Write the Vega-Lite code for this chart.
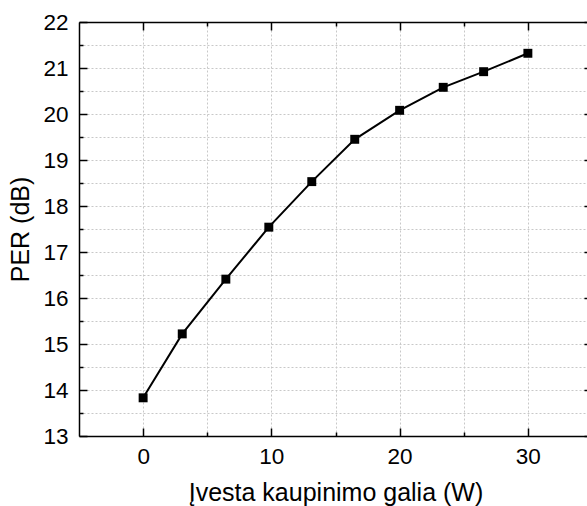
{
  "$schema": "https://vega.github.io/schema/vega-lite/v6.json",
  "width": 513,
  "height": 414,
  "autosize": {"type": "none"},
  "padding": {"left": 79, "top": 22, "right": 0, "bottom": 70},
  "background": "white",
  "config": {
    "view": {"stroke": null},
    "font": "Liberation Sans",
    "axis": {
      "domainColor": "black",
      "domainWidth": 1.5,
      "tickColor": "black",
      "tickWidth": 1.5,
      "labelFontSize": 22.5,
      "labelColor": "black",
      "labelFont": "Liberation Sans",
      "titleFont": "Liberation Sans",
      "titleFontSize": 25,
      "titleFontWeight": "normal",
      "titleColor": "black",
      "gridColor": "#c8c8c8",
      "gridDash": [2, 2],
      "gridWidth": 1
    }
  },
  "data": {
    "values": [
      {"power": 0, "per": 13.83},
      {"power": 3.05, "per": 15.22},
      {"power": 6.45, "per": 16.41},
      {"power": 9.8, "per": 17.54},
      {"power": 13.15, "per": 18.53},
      {"power": 16.5, "per": 19.45},
      {"power": 20, "per": 20.08},
      {"power": 23.4, "per": 20.58},
      {"power": 26.55, "per": 20.92},
      {"power": 30, "per": 21.32}
    ]
  },
  "layer": [
    {
      "mark": {"type": "line", "color": "black", "strokeWidth": 2},
      "encoding": {
        "x": {
          "field": "power",
          "type": "quantitative",
          "scale": {"domain": [-5, 35], "nice": false, "zero": false},
          "axis": {
            "orient": "bottom",
            "values": [0, 5, 10, 15, 20, 25, 30],
            "labelExpr": "datum.value % 10 === 0 ? format(datum.value, 'd') : ''",
            "tickSize": {"condition": {"test": "datum.value % 10 === 0", "value": -8}, "value": -4},
            "grid": true,
            "labelPadding": 17,
            "title": "Įvesta kaupinimo galia (W)",
            "titlePadding": 12.5
          }
        },
        "y": {
          "field": "per",
          "type": "quantitative",
          "scale": {"domain": [13, 22], "nice": false, "zero": false},
          "axis": {
            "orient": "left",
            "values": [13, 13.5, 14, 14.5, 15, 15.5, 16, 16.5, 17, 17.5, 18, 18.5, 19, 19.5, 20, 20.5, 21, 21.5, 22],
            "labelExpr": "datum.value % 1 === 0 ? format(datum.value, 'd') : ''",
            "tickSize": {"condition": {"test": "datum.value % 1 === 0", "value": -8}, "value": -4},
            "grid": true,
            "labelPadding": 19,
            "title": "PER (dB)",
            "titlePadding": 9.5
          }
        }
      }
    },
    {
      "mark": {"type": "point", "shape": "square", "filled": true, "color": "black", "size": 80, "opacity": 1},
      "encoding": {
        "x": {
          "field": "power",
          "type": "quantitative",
          "axis": {
            "orient": "top",
            "values": [0, 5, 10, 15, 20, 25, 30],
            "labels": false,
            "grid": false,
            "tickSize": {"condition": {"test": "datum.value % 10 === 0", "value": -8}, "value": -4},
            "title": null
          }
        },
        "y": {
          "field": "per",
          "type": "quantitative",
          "axis": {
            "orient": "right",
            "values": [13, 13.5, 14, 14.5, 15, 15.5, 16, 16.5, 17, 17.5, 18, 18.5, 19, 19.5, 20, 20.5, 21, 21.5, 22],
            "labels": false,
            "grid": false,
            "tickSize": {"condition": {"test": "datum.value % 1 === 0", "value": -8}, "value": -4},
            "title": null
          }
        }
      }
    }
  ],
  "resolve": {"axis": {"x": "independent", "y": "independent"}}
}
